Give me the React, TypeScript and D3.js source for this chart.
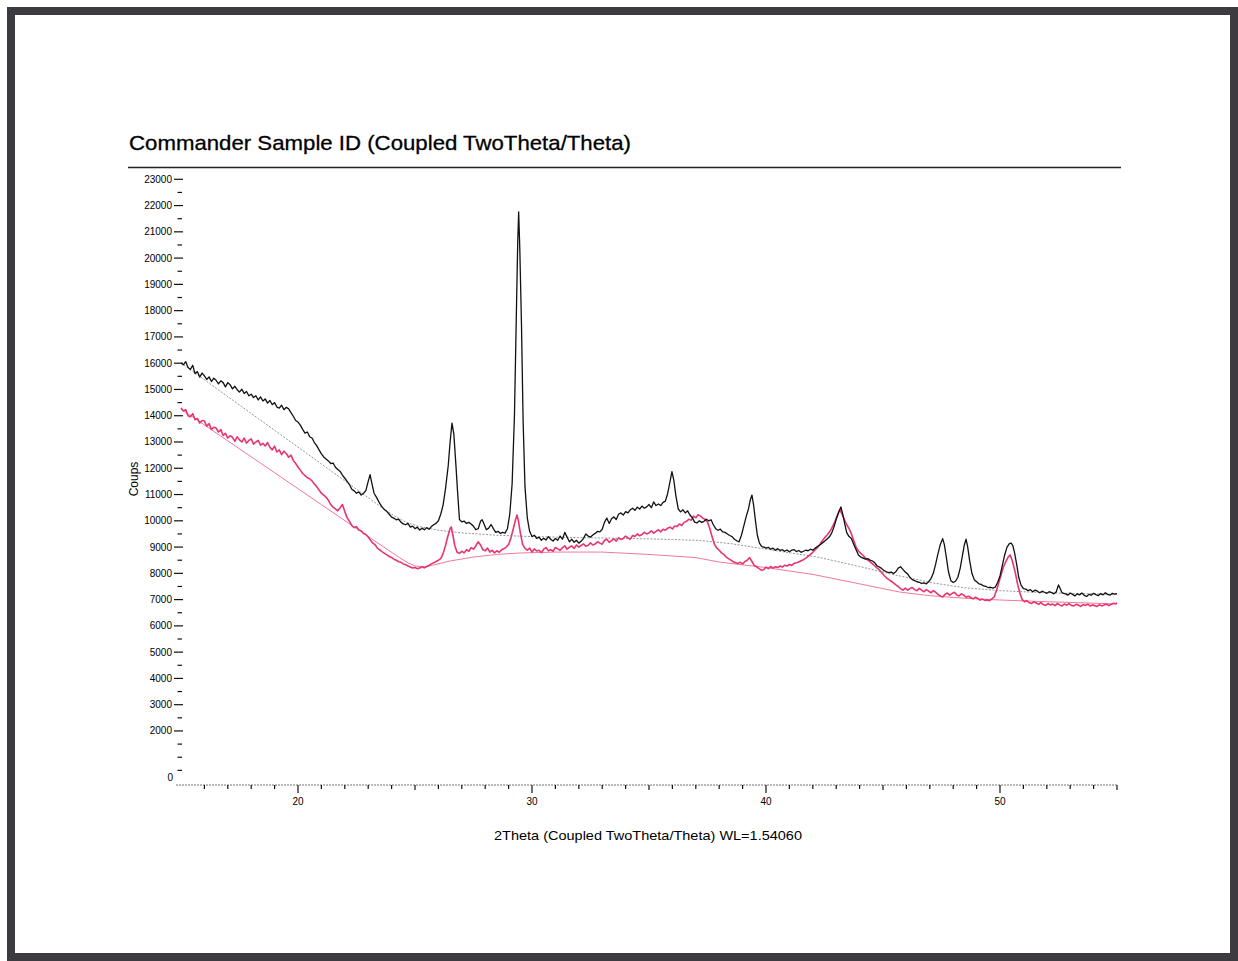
import React from "react";
import * as d3 from "d3";

// 2Theta (deg), counts
const blackScan: [number, number][] = [
  [15.0,16010],[15.1,15940],[15.2,16060],[15.3,15840],[15.4,15760],[15.5,15920],[15.6,15600],[15.7,15680],[15.8,15470],[15.9,15620],
  [16.0,15520],[16.1,15380],[16.2,15480],[16.3,15300],[16.4,15430],[16.5,15350],[16.6,15210],[16.7,15330],[16.8,15260],[16.9,15100],
  [17.0,15260],[17.1,15180],[17.2,15020],[17.3,15120],[17.4,14990],[17.5,14900],[17.6,15010],[17.7,14850],[17.8,14920],[17.9,14760],
  [18.0,14820],[18.1,14690],[18.2,14760],[18.3,14600],[18.4,14720],[18.5,14560],[18.6,14640],[18.7,14480],[18.8,14580],[18.9,14420],
  [19.0,14500],[19.1,14330],[19.2,14290],[19.3,14400],[19.4,14230],[19.5,14320],[19.6,14260],[19.7,14120],[19.8,13980],[19.9,13820],
  [20.0,13760],[20.1,13640],[20.2,13480],[20.3,13340],[20.4,13380],[20.5,13200],[20.6,13150],[20.7,12980],[20.8,12860],[20.9,12700],
  [21.0,12550],[21.1,12430],[21.2,12350],[21.3,12280],[21.4,12180],[21.5,12200],[21.6,12040],[21.7,11950],[21.8,11880],[21.9,11740],
  [22.0,11620],[22.1,11500],[22.2,11380],[22.3,11200],[22.4,11140],[22.5,11050],[22.6,11100],[22.7,10980],[22.8,11050],[22.9,11150],
  [23.0,11500],[23.08,11760],[23.15,11450],[23.25,11050],[23.35,10900],[23.5,10650],[23.6,10520],[23.7,10420],[23.8,10350],[23.9,10250],
  [24.0,10140],[24.1,10100],[24.2,10040],[24.3,10060],[24.4,9950],[24.5,9880],[24.6,9850],[24.7,9900],[24.8,9760],[24.9,9800],
  [25.0,9700],[25.1,9760],[25.2,9650],[25.3,9720],[25.4,9660],[25.5,9740],[25.6,9680],[25.7,9780],[25.8,9850],[25.9,9900],
  [26.0,10000],[26.1,10250],[26.2,10600],[26.3,11200],[26.42,12100],[26.5,13000],[26.58,13720],[26.66,13300],[26.75,12100],[26.82,11100],
  [26.9,10050],[27.0,9960],[27.1,9990],[27.2,9900],[27.3,9940],[27.4,9880],[27.5,9790],[27.6,9660],[27.7,9700],[27.8,9980],
  [27.87,10040],[27.95,9880],[28.05,9660],[28.15,9720],[28.25,9860],[28.35,9700],[28.45,9560],[28.55,9600],[28.65,9520],[28.75,9560],
  [28.85,9530],[28.95,9700],[29.05,10250],[29.15,11400],[29.25,14000],[29.33,17800],[29.39,20600],[29.43,21760],[29.48,20300],[29.55,17500],
  [29.62,13800],[29.7,11300],[29.8,10100],[29.9,9600],[30.0,9400],[30.1,9450],[30.2,9330],[30.3,9380],[30.4,9260],[30.5,9340],
  [30.6,9270],[30.7,9400],[30.8,9300],[30.9,9230],[31.0,9330],[31.1,9260],[31.2,9420],[31.3,9300],[31.4,9560],[31.5,9380],
  [31.6,9200],[31.7,9300],[31.8,9180],[31.9,9260],[32.0,9150],[32.1,9220],[32.2,9330],[32.3,9500],[32.4,9420],[32.5,9380],
  [32.6,9460],[32.7,9520],[32.8,9600],[32.9,9580],[33.0,9680],[33.1,9950],[33.2,10100],[33.3,9900],[33.4,10080],[33.5,10150],
  [33.6,10050],[33.7,10250],[33.8,10300],[33.9,10220],[34.0,10350],[34.1,10300],[34.2,10420],[34.3,10480],[34.4,10400],[34.5,10520],
  [34.6,10450],[34.7,10560],[34.8,10480],[34.9,10530],[35.0,10620],[35.1,10500],[35.2,10720],[35.3,10580],[35.4,10640],[35.5,10580],
  [35.6,10700],[35.7,10750],[35.8,11050],[35.9,11500],[35.98,11870],[36.06,11550],[36.15,10950],[36.25,10450],[36.35,10340],[36.45,10420],
  [36.55,10300],[36.65,10380],[36.75,10220],[36.85,10120],[36.95,9950],[37.05,9920],[37.15,10000],[37.25,9940],[37.35,9980],[37.45,10060],
  [37.55,10000],[37.65,10040],[37.75,9850],[37.85,9700],[37.95,9640],[38.05,9680],[38.15,9580],[38.25,9560],[38.35,9500],[38.45,9440],
  [38.55,9400],[38.65,9300],[38.75,9240],[38.85,9200],[38.95,9450],[39.05,9800],[39.15,10150],[39.25,10450],[39.33,10800],[39.4,10980],
  [39.47,10600],[39.55,10000],[39.63,9450],[39.72,9150],[39.82,9020],[39.92,9000],[40.0,8960],[40.1,8990],[40.2,8920],[40.3,8960],
  [40.4,8880],[40.5,8940],[40.6,8870],[40.7,8900],[40.8,8840],[40.9,8890],[41.0,8820],[41.1,8880],[41.2,8900],[41.3,8830],
  [41.4,8870],[41.5,8800],[41.6,8840],[41.7,8880],[41.8,8860],[41.9,8920],[42.0,8880],[42.1,8960],[42.2,9020],[42.3,9080],
  [42.4,9150],[42.5,9220],[42.6,9300],[42.7,9380],[42.8,9520],[42.9,9750],[43.0,10050],[43.1,10320],[43.2,10530],[43.28,10250],
  [43.36,9900],[43.45,9550],[43.55,9400],[43.65,9330],[43.75,9100],[43.85,8900],[43.95,8700],[44.05,8620],[44.15,8580],[44.25,8540],
  [44.35,8560],[44.45,8500],[44.55,8470],[44.65,8400],[44.75,8280],[44.85,8240],[44.95,8180],[45.05,8100],[45.15,8060],[45.25,8030],
  [45.35,8050],[45.45,7990],[45.55,8060],[45.65,8200],[45.75,8250],[45.85,8150],[45.95,8050],[46.05,7980],[46.15,7850],[46.25,7760],
  [46.35,7720],[46.45,7680],[46.55,7660],[46.65,7620],[46.75,7640],[46.85,7600],[46.95,7680],[47.05,7800],[47.15,8000],[47.25,8350],
  [47.35,8750],[47.45,9100],[47.55,9320],[47.62,9100],[47.7,8650],[47.8,8050],[47.9,7720],[48.0,7650],[48.1,7700],[48.2,7850],
  [48.3,8200],[48.4,8700],[48.48,9100],[48.55,9300],[48.62,9000],[48.7,8500],[48.8,8000],[48.9,7760],[49.0,7680],[49.1,7600],
  [49.2,7580],[49.3,7520],[49.4,7500],[49.5,7460],[49.6,7470],[49.7,7440],[49.8,7480],[49.9,7650],[50.0,7900],[50.1,8300],
  [50.2,8700],[50.3,9000],[50.4,9130],[50.48,9150],[50.55,9050],[50.63,8750],[50.72,8300],[50.8,7850],[50.9,7550],[51.0,7420],
  [51.1,7400],[51.2,7340],[51.3,7380],[51.4,7300],[51.5,7360],[51.6,7320],[51.7,7260],[51.8,7320],[51.9,7280],[52.0,7240],
  [52.1,7300],[52.2,7270],[52.3,7220],[52.4,7290],[52.5,7560],[52.57,7420],[52.65,7260],[52.8,7220],[52.9,7170],[53.0,7250],
  [53.1,7200],[53.2,7140],[53.3,7220],[53.4,7180],[53.5,7250],[53.6,7160],[53.7,7120],[53.8,7200],[53.9,7170],[54.0,7240],
  [54.1,7190],[54.2,7150],[54.3,7230],[54.4,7180],[54.5,7260],[54.6,7200],[54.7,7170],[54.8,7240],[54.9,7210],[55.0,7230],
];

const pinkScan: [number, number][] = [
  [15.0,14290],[15.1,14180],[15.2,14230],[15.3,14000],[15.4,13960],[15.5,14080],[15.6,13850],[15.7,13900],[15.8,13720],[15.9,13820],
  [16.0,13800],[16.1,13600],[16.2,13700],[16.3,13480],[16.4,13560],[16.5,13530],[16.6,13380],[16.7,13470],[16.8,13250],[16.9,13330],
  [17.0,13150],[17.1,13240],[17.2,13180],[17.3,13020],[17.4,13200],[17.5,13080],[17.6,13000],[17.7,13150],[17.8,12960],[17.9,13060],
  [18.0,13120],[18.1,12920],[18.2,13000],[18.3,13060],[18.4,12880],[18.5,12950],[18.6,12850],[18.7,12980],[18.8,12800],[18.9,12700],
  [19.0,12840],[19.1,12620],[19.2,12700],[19.3,12520],[19.4,12650],[19.5,12560],[19.6,12420],[19.7,12500],[19.8,12300],[19.9,12180],
  [20.0,12050],[20.1,11930],[20.2,11800],[20.3,11720],[20.4,11640],[20.5,11600],[20.6,11520],[20.7,11400],[20.8,11300],[20.9,11170],
  [21.0,11050],[21.1,10980],[21.2,10900],[21.3,10780],[21.4,10620],[21.5,10520],[21.6,10450],[21.7,10380],[21.8,10500],[21.9,10620],
  [22.0,10350],[22.1,10120],[22.2,9980],[22.3,9820],[22.4,9740],[22.5,9780],[22.6,9650],[22.7,9620],[22.8,9520],[22.9,9480],
  [23.0,9380],[23.1,9260],[23.2,9150],[23.3,9080],[23.4,8950],[23.5,8890],[23.6,8820],[23.7,8760],[23.8,8700],[23.9,8640],
  [24.0,8600],[24.1,8540],[24.2,8500],[24.3,8440],[24.4,8420],[24.5,8360],[24.6,8330],[24.7,8280],[24.8,8240],[24.9,8200],
  [25.0,8220],[25.1,8180],[25.2,8200],[25.3,8250],[25.4,8210],[25.5,8260],[25.6,8300],[25.7,8360],[25.8,8400],[25.9,8450],
  [26.0,8500],[26.1,8560],[26.2,8750],[26.3,9050],[26.4,9400],[26.5,9700],[26.55,9770],[26.62,9450],[26.7,9050],[26.8,8800],
  [26.9,8760],[27.0,8840],[27.1,8780],[27.2,8900],[27.3,8840],[27.4,8980],[27.5,8920],[27.6,9050],[27.7,9200],[27.8,9080],
  [27.9,8900],[28.0,8860],[28.1,8960],[28.2,8810],[28.3,8880],[28.4,8780],[28.5,8860],[28.6,8800],[28.7,8900],[28.8,8940],
  [28.9,9000],[29.0,9100],[29.1,9350],[29.2,9700],[29.3,10050],[29.36,10220],[29.42,10000],[29.5,9550],[29.6,9100],[29.7,8950],
  [29.8,8880],[29.9,8960],[30.0,8810],[30.1,8930],[30.2,8850],[30.3,8880],[30.4,8790],[30.5,8920],[30.6,8980],[30.7,8860],
  [30.8,8900],[30.9,8840],[31.0,8990],[31.1,8930],[31.2,8880],[31.3,8970],[31.4,9050],[31.5,8920],[31.6,9000],[31.7,9040],
  [31.8,8950],[31.9,9080],[32.0,9000],[32.1,9060],[32.2,9120],[32.3,9030],[32.4,9070],[32.5,9160],[32.6,9080],[32.7,9120],
  [32.8,9200],[32.9,9150],[33.0,9110],[33.1,9260],[33.2,9300],[33.3,9180],[33.4,9250],[33.5,9310],[33.6,9230],[33.7,9350],
  [33.8,9290],[33.9,9330],[34.0,9420],[34.1,9350],[34.2,9300],[34.3,9440],[34.4,9400],[34.5,9500],[34.6,9430],[34.7,9480],
  [34.8,9560],[34.9,9500],[35.0,9540],[35.1,9620],[35.2,9530],[35.3,9600],[35.4,9660],[35.5,9580],[35.6,9680],[35.7,9640],
  [35.8,9720],[35.9,9760],[36.0,9690],[36.1,9800],[36.2,9780],[36.3,9880],[36.4,9820],[36.5,9940],[36.6,9980],[36.7,10060],
  [36.8,10020],[36.9,10180],[37.0,10120],[37.1,10230],[37.2,10180],[37.3,10100],[37.4,10050],[37.5,9950],[37.6,9700],[37.7,9380],
  [37.8,9100],[37.9,8960],[38.0,8880],[38.1,8780],[38.2,8720],[38.3,8620],[38.4,8560],[38.5,8500],[38.6,8440],[38.7,8400],
  [38.8,8380],[38.9,8420],[39.0,8360],[39.1,8450],[39.2,8500],[39.3,8600],[39.4,8450],[39.5,8300],[39.6,8250],[39.7,8180],
  [39.8,8120],[39.9,8140],[40.0,8240],[40.1,8180],[40.2,8260],[40.3,8200],[40.4,8250],[40.5,8220],[40.6,8280],[40.7,8240],
  [40.8,8310],[40.9,8280],[41.0,8340],[41.1,8300],[41.2,8380],[41.3,8400],[41.4,8430],[41.5,8480],[41.6,8520],[41.7,8580],
  [41.8,8650],[41.9,8720],[42.0,8800],[42.1,8900],[42.2,8980],[42.3,9100],[42.4,9230],[42.5,9350],[42.6,9450],[42.7,9560],
  [42.8,9700],[42.9,9880],[43.0,10100],[43.1,10300],[43.16,10420],[43.25,10250],[43.35,10050],[43.45,9850],[43.55,9700],[43.65,9500],
  [43.75,9250],[43.85,9000],[43.95,8850],[44.05,8760],[44.15,8680],[44.25,8580],[44.35,8500],[44.45,8440],[44.55,8360],[44.65,8280],
  [44.75,8200],[44.85,8130],[44.95,8020],[45.05,7920],[45.15,7830],[45.25,7760],[45.35,7700],[45.45,7640],[45.55,7560],[45.65,7500],
  [45.75,7420],[45.85,7360],[45.95,7440],[46.05,7360],[46.15,7420],[46.25,7460],[46.35,7380],[46.45,7340],[46.55,7430],[46.65,7360],
  [46.75,7300],[46.85,7380],[46.95,7320],[47.05,7260],[47.15,7340],[47.25,7280],[47.35,7200],[47.45,7140],[47.55,7100],[47.65,7200],
  [47.75,7250],[47.85,7170],[47.95,7230],[48.05,7280],[48.15,7180],[48.25,7140],[48.35,7220],[48.45,7170],[48.55,7090],[48.65,7130],
  [48.75,7080],[48.85,7030],[48.95,7090],[49.05,7040],[49.15,6980],[49.25,7020],[49.35,6970],[49.45,6990],[49.55,6960],[49.65,7030],
  [49.75,7100],[49.85,7350],[49.95,7650],[50.05,7950],[50.15,8250],[50.25,8450],[50.35,8620],[50.43,8700],[50.5,8550],[50.58,8300],
  [50.66,8000],[50.75,7600],[50.85,7250],[50.95,7000],[51.05,6920],[51.15,6960],[51.25,6880],[51.35,6850],[51.45,6920],[51.55,6870],
  [51.65,6820],[51.75,6890],[51.85,6810],[51.95,6780],[52.05,6850],[52.15,6800],[52.25,6830],[52.35,6770],[52.45,6850],[52.55,6800],
  [52.65,6760],[52.75,6830],[52.85,6790],[52.95,6850],[53.05,6780],[53.15,6760],[53.25,6820],[53.35,6790],[53.45,6740],[53.55,6810],
  [53.65,6780],[53.75,6830],[53.85,6760],[53.95,6800],[54.05,6770],[54.15,6740],[54.25,6810],[54.35,6760],[54.45,6800],[54.55,6830],
  [54.65,6770],[54.75,6820],[54.85,6860],[54.95,6840],[55.0,6880],
];

// fitted backgrounds
const blackBackground: [number, number][] = [
  [15,16010],[17,14728],[19,13446],[21,12164],[23,10880],[24,10250],[24.6,9950],[25.2,9780],[26,9640],[27,9540],
  [28.5,9450],[30,9400],[32,9360],[34,9330],[36,9290],[37.2,9250],[38.5,9130],[40,8920],[42.2,8620],[44,8260],
  [45.5,7940],[47.1,7640],[48.5,7450],[50,7340],[52,7260],[55,7200],
];

const pinkBackground: [number, number][] = [
  [15,14257],[17,13043],[19,11830],[21,10616],[23,9402],[24.3,8620],[24.7,8400],[25.0,8280],[25.4,8250],[25.8,8320],
  [26.5,8470],[27.5,8620],[28.5,8720],[29.5,8775],[31,8810],[33,8810],[35,8720],[37,8600],[38,8430],[40,8220],
  [42,7960],[44,7600],[45.7,7290],[47,7150],[48.5,7050],[50,6985],[52,6920],[55,6835],
];

const yLabels = [2000, 3000, 4000, 5000, 6000, 7000, 8000, 9000, 10000, 11000, 12000, 13000, 14000, 15000,
  16000, 17000, 18000, 19000, 20000, 21000, 22000, 23000];
const xLabels = [20, 30, 40, 50];

const W = 1238;
const H = 961;

export default function App() {
  const x = d3.scaleLinear().domain([15, 55]).range([181, 1117]);
  const y = d3.scaleLinear().domain([0, 23000]).range([783.5, 179.3]);

  const line = d3
    .line<[number, number]>()
    .x((d) => x(d[0]))
    .y((d) => y(d[1]));

  const minorY = d3.range(500, 23000, 500).filter((v) => !yLabels.includes(v));
  const xTicks = d3.range(16, 56, 1);

  const font = "Liberation Sans, Arial, sans-serif";

  return (
    <svg width={W} height={H} style={{ position: "absolute", left: 0, top: 0, background: "#fff" }}>
      <rect x={0} y={0} width={W} height={H} fill="#fff" />
      {/* scanned page frame */}
      <rect x={11} y={11} width={1223} height={946} fill="none" stroke="#3d3b40" strokeWidth={8} />

      <text x={129} y={150} fontFamily={font} fontSize={21} fill="#000" stroke="#000" strokeWidth={0.3}
        textLength={502} lengthAdjust="spacingAndGlyphs">
        Commander Sample ID (Coupled TwoTheta/Theta)
      </text>
      <line x1={128} x2={1121} y1={167.5} y2={167.5} stroke="#222" strokeWidth={1.4} />

      {/* y axis ticks */}
      {yLabels.map((v) => (
        <g key={"yl" + v}>
          <line x1={174} x2={183} y1={y(v)} y2={y(v)} stroke="#111" strokeWidth={1.2} />
          <text x={172} y={y(v) + 3.5} textAnchor="end" fontFamily={font} fontSize={10} fill="#000">
            {v}
          </text>
        </g>
      ))}
      {minorY.map((v) => (
        <line key={"ym" + v} x1={177.5} x2={182} y1={y(v)} y2={y(v)} stroke="#111" strokeWidth={1.2} />
      ))}
      <text x={173} y={781} textAnchor="end" fontFamily={font} fontSize={10} fill="#000">
        0
      </text>

      {/* x axis */}
      <line x1={176} x2={1118} y1={785} y2={785} stroke="#777" strokeWidth={1} strokeDasharray="2,1" />
      {xTicks.map((v) => {
        const len = v % 10 === 0 ? 8 : v % 5 === 0 ? 5 : 4;
        return <line key={"xt" + v} x1={x(v)} x2={x(v)} y1={785} y2={785 + len} stroke="#111" strokeWidth={1.2} />;
      })}
      {xLabels.map((v) => (
        <text key={"xl" + v} x={x(v)} y={805} textAnchor="middle" fontFamily={font} fontSize={10} fill="#000">
          {v}
        </text>
      ))}

      <text transform="translate(138,479) rotate(-90)" textAnchor="middle" fontFamily={font} fontSize={12} fill="#000">
        Coups
      </text>
      <text x={648} y={840} textAnchor="middle" fontFamily={font} fontSize={13} fill="#000"
        textLength={308} lengthAdjust="spacingAndGlyphs">
        2Theta (Coupled TwoTheta/Theta) WL=1.54060
      </text>

      {/* backgrounds */}
      <path d={line(blackBackground) ?? ""} fill="none" stroke="#888" strokeWidth={0.9} strokeDasharray="2,1.5" />
      <path d={line(pinkBackground) ?? ""} fill="none" stroke="#f07a98" strokeWidth={1} />

      {/* scans */}
      <path d={line(pinkScan) ?? ""} fill="none" stroke="#e8356f" strokeWidth={1.6} strokeLinejoin="round" />
      <path d={line(blackScan) ?? ""} fill="none" stroke="#111" strokeWidth={1.3} strokeLinejoin="round" />
    </svg>
  );
}
